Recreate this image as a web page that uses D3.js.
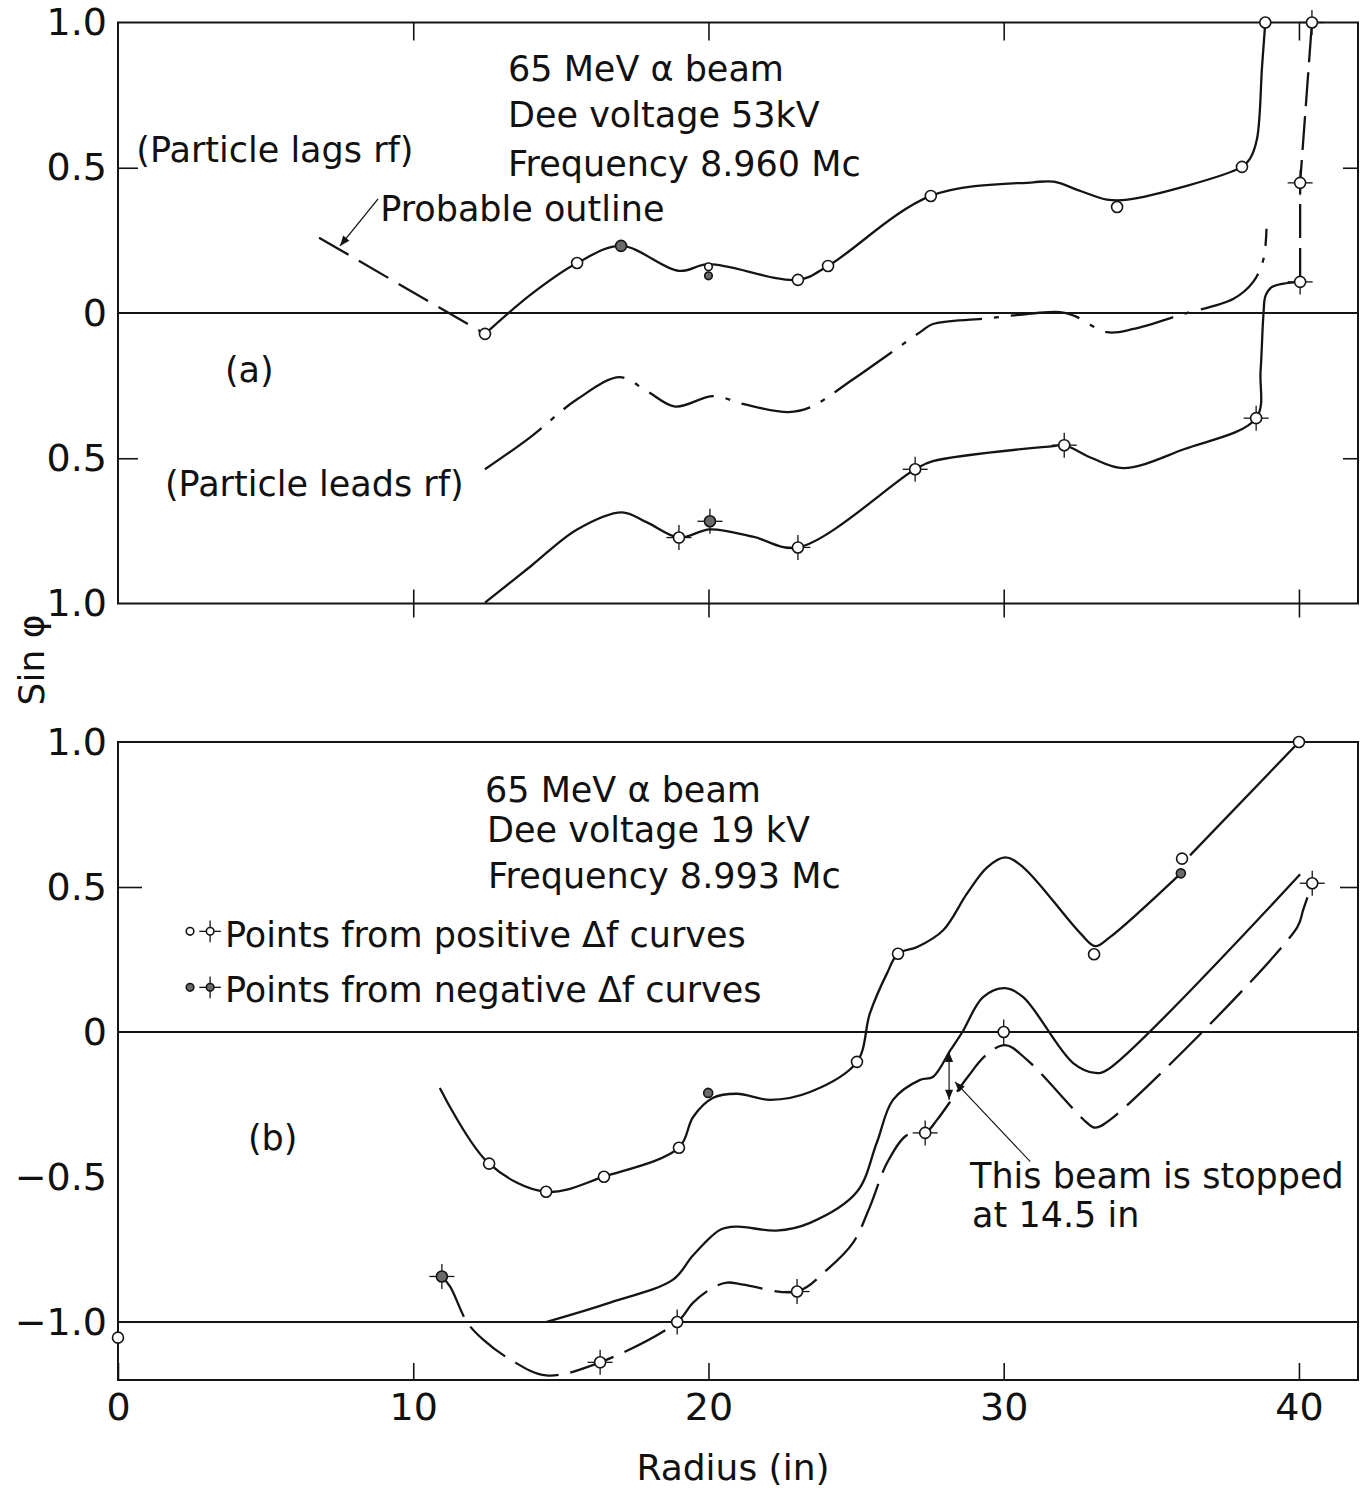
<!DOCTYPE html>
<html><head><meta charset="utf-8">
<script src="https://cdn.jsdelivr.net/npm/d3@7"></script>
<style>
body{margin:0;background:#fff}
svg{display:block}
text{font-family:"DejaVu Sans",sans-serif;fill:#111}
</style>
</head><body>
<svg id="chart" width="1362" height="1488"></svg>
<script>
// ---------------- DATA (radius in inches, sin phi) ----------------
const xTickValues = [0, 10, 20, 30, 40];
const xTickLabels = ["0", "10", "20", "30", "40"];
const topYTickValues = [1, 0.5, 0, -0.5, -1];
const topYTickLabels = ["1.0", "0.5", "0", "0.5", "1.0"];
const botYTickValues = [1, 0.5, 0, -0.5, -1];
const botYTickLabels = ["1.0", "0.5", "0", "\u22120.5", "\u22121.0"];

// Panel (a): 53 kV
const aProbableOutline = [[6.81,0.259],[12.43,-0.072]];
const aUpper = [[12.43,-0.072],[14.0,0.065],[15.55,0.172],[17.04,0.231],[19.0,0.145],[20.0,0.168],
  [23.03,0.114],[24.05,0.162],[27.53,0.403],[31.0,0.45],[31.7,0.452],[32.6,0.42],[33.5,0.39],
  [34.2,0.39],[38.07,0.503],[38.34,0.531],[38.58,0.6],[38.75,0.848],[38.86,1.0]];
const aUpperOpen = [[12.43,-0.072],[15.55,0.172],[20.0,0.159],[23.03,0.114],[24.05,0.162],[27.53,0.403],[33.84,0.365],[38.07,0.503],[38.86,1.0]];
const aUpperFilled = [[17.04,0.231],[20.0,0.128]];
const aMiddle = [[12.43,-0.538],[13.96,-0.428],[15.55,-0.297],[17.0,-0.221],[17.9,-0.268],[18.87,-0.322],
  [20.16,-0.286],[21.2,-0.314],[22.7,-0.341],[23.44,-0.325],[24.9,-0.228],[27.17,-0.066],[27.6,-0.038],
  [29.3,-0.02],[31.9,0.003],[32.4,-0.01],[33.5,-0.066],[34.4,-0.055],[36.1,-0.003],[37.77,0.048],
  [38.45,0.107],[38.8,0.186],[38.9,0.29]];
const aLower = [[12.43,-0.997],[14.0,-0.87],[15.55,-0.745],[17.07,-0.686],[17.9,-0.72],[19.0,-0.773],
  [20.05,-0.745],[21.5,-0.77],[23.03,-0.807],[27.0,-0.538],[27.6,-0.51],[31.67,-0.458],[32.05,-0.455],
  [33.0,-0.5],[34.05,-0.534],[36.1,-0.469],[38.55,-0.362],[38.7,-0.2],[38.8,0.0],[38.87,0.06],
  [39.1,0.09],[40.04,0.107]];
const aLowerDashed = [[40.04,0.107],[40.04,0.448],[40.44,1.0]];
const aLowerCrossOpen = [[19.0,-0.773],[23.03,-0.807],[27.0,-0.538],[32.05,-0.455],[38.55,-0.362],[40.04,0.107],[40.04,0.448],[40.44,1.0]];
const aLowerCrossFilled = [[20.05,-0.717]];

// Panel (b): 19 kV
const bUpper = [[10.9,-0.193],[12.57,-0.454],[14.5,-0.551],[16.46,-0.499],[19.0,-0.399],[19.48,-0.293],
  [20.16,-0.227],[20.97,-0.213],[22.09,-0.234],[23.44,-0.207],[25.03,-0.103],[25.47,0.065],[26.05,0.203],
  [26.42,0.27],[27.07,0.293],[27.95,0.351],[28.76,0.478],[29.44,0.568],[30.05,0.602],[30.66,0.568],
  [32.59,0.341],[33.1,0.296],[33.6,0.327],[36.0,0.547]];
const bUpperTail = [[36.31,0.609],[40.0,1.0]];
const bUpperOpen = [[0,-1.054],[12.57,-0.454],[14.5,-0.551],[16.46,-0.499],[19.0,-0.399],[25.03,-0.103],[26.42,0.27],[33.06,0.268],[36.04,0.598],[40.0,1.0]];
const bUpperFilled = [[19.99,-0.21],[36.0,0.547]];
const bMiddle = [[14.5,-1.0],[16.67,-0.933],[18.8,-0.854],[19.48,-0.77],[20.4,-0.682],[20.97,-0.671],
  [22.3,-0.685],[23.44,-0.658],[25.03,-0.551],[25.7,-0.382],[26.25,-0.234],[27.17,-0.165],[27.6,-0.155],
  [28.2,-0.062],[28.6,0.0],[29.3,0.12],[30.05,0.151],[30.66,0.12],[32.35,-0.107],[33.1,-0.141],
  [33.5,-0.131],[40.04,0.544]];
const bLowerDashed = [[10.97,-0.843],[11.25,-0.878],[11.82,-1.0],[12.36,-1.06],[13.28,-1.129],[14.5,-1.184],
  [16.33,-1.139],[18.94,-1.0],[19.48,-0.933],[20.16,-0.881],[20.63,-0.864],[21.17,-0.871],[23.0,-0.895],
  [24.02,-0.819],[24.9,-0.726],[25.47,-0.602],[26.05,-0.451],[26.73,-0.355],[27.34,-0.348],[27.74,-0.303],
  [28.76,-0.158],[29.4,-0.08],[30.05,-0.045],[30.79,-0.096],[32.82,-0.313],[33.1,-0.33],[33.6,-0.303],
  [39.94,0.361],[40.14,0.42],[40.45,0.513]];
const bLowerCrossOpen = [[16.33,-1.139],[18.94,-1.0],[23.0,-0.895],[27.34,-0.348],[30.0,0.0],[40.45,0.513]];
const bLowerCrossFilled = [[10.97,-0.843]];

// ---------------- SETUP ----------------
const svg = d3.select("#chart");
const ink = "#141414";
const x = d3.scaleLinear().domain([0, 42]).range([118, 1358]);
const yA = d3.scaleLinear().domain([-1, 1]).range([603.5, 22.5]);
const yB = d3.scaleLinear().domain([-1.2, 1]).range([1380, 742]);

const defs = svg.append("defs");
defs.append("marker").attr("id","arrow").attr("viewBox","0 0 10 8").attr("refX",10).attr("refY",4)
  .attr("markerWidth",11).attr("markerHeight",8).attr("markerUnits","userSpaceOnUse")
  .attr("orient","auto-start-reverse")
  .append("path").attr("d","M0,0L10,4L0,8Z").attr("fill",ink);

function frame(y, y0, y1) {
  svg.append("rect").attr("x", x(0)).attr("y", y(y1)).attr("width", x(42) - x(0)).attr("height", y(y0) - y(y1))
    .attr("fill","none").attr("stroke",ink).attr("stroke-width",2);
}
function hline(y, v) {
  svg.append("line").attr("x1",x(0)).attr("x2",x(42)).attr("y1",y(v)).attr("y2",y(v))
    .attr("stroke",ink).attr("stroke-width",2);
}
function styleAxis(g, fs) {
  g.select(".domain").remove();
  g.selectAll("line").attr("stroke",ink).attr("stroke-width",1.6);
  g.selectAll("text").attr("font-size",fs).attr("font-family","'DejaVu Sans',sans-serif").attr("fill",ink);
  g.attr("font-family",null).attr("font-size",null);
}
function curve(y, pts, dash, w) {
  const line = d3.line().x(d => x(d[0])).y(d => y(d[1])).curve(d3.curveCatmullRom.alpha(0.5));
  svg.append("path").attr("d", line(pts)).attr("fill","none").attr("stroke",ink)
    .attr("stroke-width", w || 2.3).attr("stroke-linecap","butt").attr("stroke-linejoin","round")
    .attr("stroke-dasharray", dash || null);
}
function straight(y, pts, dash, w) {
  const line = d3.line().x(d => x(d[0])).y(d => y(d[1]));
  svg.append("path").attr("d", line(pts)).attr("fill","none").attr("stroke",ink)
    .attr("stroke-width", w || 2.3).attr("stroke-dasharray", dash || null);
}
function circles(y, pts, filled, r) {
  svg.append("g").selectAll("circle").data(pts).join("circle")
    .attr("cx", d => x(d[0])).attr("cy", d => y(d[1])).attr("r", r || 5.5)
    .attr("fill", filled ? "#6a6a6a" : "#fff").attr("stroke", ink).attr("stroke-width", 1.6);
}
function crosses(y, pts, filled, r) {
  r = r || 5.5;
  const g = svg.append("g").selectAll("g").data(pts).join("g")
    .attr("transform", d => `translate(${x(d[0])},${y(d[1])})`);
  [[0,-1],[0,1],[-1,0],[1,0]].forEach(([dx,dy]) => {
    g.append("line").attr("x1",dx*r).attr("y1",dy*r).attr("x2",dx*(r+7)).attr("y2",dy*(r+7))
      .attr("stroke",ink).attr("stroke-width",1.3);
  });
  g.append("circle").attr("r", r).attr("fill", filled ? "#6a6a6a" : "#fff").attr("stroke",ink).attr("stroke-width",1.6);
}
function label(y, r, v, txt, fs, anchor) {
  svg.append("text").attr("x", x(r)).attr("y", y(v)).attr("font-size", fs || 35)
    .attr("text-anchor", anchor || "start").text(txt);
}

// ---------------- PANEL (a) ----------------
frame(yA, -1, 1);
hline(yA, 0);
styleAxis(svg.append("g").attr("transform",`translate(${x(0)},0)`)
  .call(d3.axisLeft(yA).tickValues(topYTickValues).tickSize(0).tickPadding(11)
  .tickFormat((d,i) => topYTickLabels[i])), 38);
styleAxis(svg.append("g").attr("transform",`translate(${x(0)},0)`)
  .call(d3.axisLeft(yA).tickValues([0.5,-0.5]).tickSize(-20).tickFormat("")), 10);
styleAxis(svg.append("g").attr("transform",`translate(${x(42)},0)`)
  .call(d3.axisRight(yA).tickValues([0.5,-0.5]).tickSize(-15).tickFormat("")), 10);
styleAxis(svg.append("g").attr("transform",`translate(0,${yA(1)})`)
  .call(d3.axisTop(x).tickValues([10,20,30,40]).tickSize(-18).tickFormat("")), 10);
styleAxis(svg.append("g").attr("transform",`translate(0,${yA(-1)})`)
  .call(d3.axisBottom(x).tickValues([10,20,30,40]).tickSize(14).tickFormat("")), 10);
styleAxis(svg.append("g").attr("transform",`translate(0,${yA(-1)})`)
  .call(d3.axisBottom(x).tickValues([10,20,30,40]).tickSize(-14).tickFormat("")), 10);

straight(yA, aProbableOutline, "34 12");
curve(yA, aUpper);
curve(yA, aMiddle, "70 12 5 12");
curve(yA, aLower);
straight(yA, aLowerDashed, "34 10");
circles(yA, aUpperOpen.filter(d => !(d[0] === 20.0)), false);
circles(yA, aUpperOpen.filter(d => d[0] === 20.0), false, 3.8);
circles(yA, aUpperFilled.filter(d => d[0] !== 20.0), true);
circles(yA, aUpperFilled.filter(d => d[0] === 20.0), true, 3.8);
crosses(yA, aLowerCrossOpen, false);
crosses(yA, aLowerCrossFilled, true);

label(yA, 13.21, 0.80, "65 MeV \u03b1  beam");
label(yA, 13.21, 0.641, "Dee voltage  53kV");
label(yA, 13.21, 0.472, "Frequency 8.960 Mc");
label(yA, 0.62, 0.521, "(Particle lags rf)");
label(yA, 8.88, 0.317, "Probable outline");
label(yA, 3.62, -0.238, "(a)");
label(yA, 1.59, -0.631, "(Particle leads rf)");
svg.append("line").attr("x1",x(8.81)).attr("y1",yA(0.393)).attr("x2",x(7.52)).attr("y2",yA(0.231))
  .attr("stroke",ink).attr("stroke-width",1.3).attr("marker-end","url(#arrow)");

// ---------------- PANEL (b) ----------------
frame(yB, -1.2, 1);
hline(yB, 0);
hline(yB, -1);
styleAxis(svg.append("g").attr("transform",`translate(${x(0)},0)`)
  .call(d3.axisLeft(yB).tickValues(botYTickValues).tickSize(0).tickPadding(11)
  .tickFormat((d,i) => botYTickLabels[i])), 38);
styleAxis(svg.append("g").attr("transform",`translate(${x(0)},0)`)
  .call(d3.axisLeft(yB).tickValues([0.5]).tickSize(-24).tickFormat("")), 10);
styleAxis(svg.append("g").attr("transform",`translate(${x(42)},0)`)
  .call(d3.axisRight(yB).tickValues([0.5]).tickSize(-18).tickFormat("")), 10);
styleAxis(svg.append("g").attr("transform",`translate(0,${yB(-1.2)})`)
  .call(d3.axisBottom(x).tickValues(xTickValues).tickSize(-17).tickPadding(13)
  .tickFormat((d,i) => xTickLabels[i])), 38);

curve(yB, bUpper);
straight(yB, bUpperTail);
curve(yB, bMiddle);
curve(yB, bLowerDashed, "46 12");
circles(yB, bUpperOpen, false);
circles(yB, bUpperFilled, true, 4.5);
crosses(yB, bLowerCrossOpen, false);
crosses(yB, bLowerCrossFilled, true);

label(yB, 12.43, 0.792, "65 MeV \u03b1  beam");
label(yB, 12.5, 0.654, "Dee voltage 19 kV");
label(yB, 12.53, 0.496, "Frequency 8.993  Mc");
// legend
circles(yB, [[2.44,0.347]], false, 3.8);
crosses(yB, [[3.12,0.347]], false, 3.8);
circles(yB, [[2.44,0.154]], true, 3.8);
crosses(yB, [[3.12,0.154]], true, 3.8);
label(yB, 3.62, 0.293, "Points from  positive \u0394f curves");
label(yB, 3.62, 0.103, "Points from  negative \u0394f curves");
label(yB, 4.4, -0.406, "(b)");
label(yB, 28.86, -0.537, "This beam is stopped");
label(yB, 28.93, -0.671, "at 14.5 in");
// double arrow + leader
svg.append("line").attr("x1",x(28.15)).attr("y1",yB(-0.069)).attr("x2",x(28.15)).attr("y2",yB(-0.234))
  .attr("stroke",ink).attr("stroke-width",1.2)
  .attr("marker-start","url(#arrow)").attr("marker-end","url(#arrow)");
svg.append("line").attr("x1",x(30.9)).attr("y1",yB(-0.447)).attr("x2",x(28.35)).attr("y2",yB(-0.172))
  .attr("stroke",ink).attr("stroke-width",1.1).attr("marker-end","url(#arrow)");

// axis titles
svg.append("text").attr("x", 733).attr("y", 1480).attr("font-size", 36).attr("text-anchor","middle").text("Radius (in)");
svg.append("text").attr("transform","translate(44,660) rotate(-90)").attr("font-size", 36)
  .attr("text-anchor","middle").text("Sin \u03c6");
</script>
</body></html>
